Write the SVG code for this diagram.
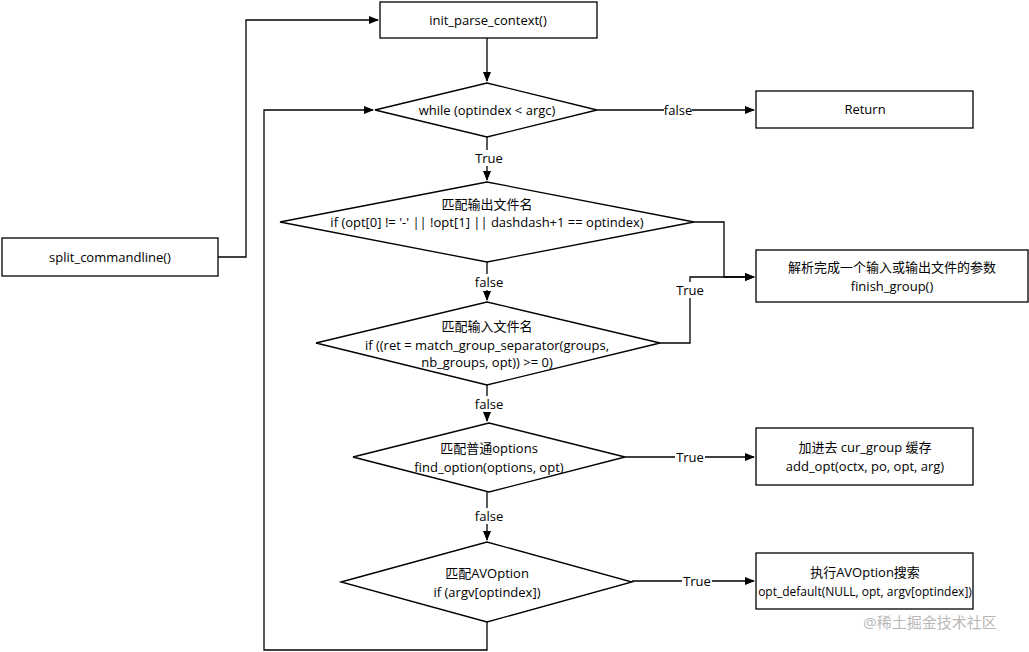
<svg xmlns="http://www.w3.org/2000/svg" width="1029" height="652" viewBox="0 0 1029 652">
<defs>
<marker id="a" markerWidth="10" markerHeight="8" refX="9" refY="4" orient="auto" markerUnits="userSpaceOnUse"><path d="M0,0 L10,4 L0,8 z" fill="#000"/></marker>
<style>
.s{fill:#fff;stroke:#000;stroke-width:1.3}
.l{fill:none;stroke:#000;stroke-width:1.3}
text{font-family:"Open Sans","Noto Sans CJK SC",sans-serif;font-size:13px;text-anchor:middle;fill:#000}
</style>
</defs>
<rect width="1029" height="652" fill="#fff"/>
<g id="connectors">
<path class="l" d="M487,38 V81" marker-end="url(#a)"/>
<path class="l" d="M597,110 H754" marker-end="url(#a)"/>
<path class="l" d="M487,137 V180" marker-end="url(#a)"/>
<path class="l" d="M487,262 V300" marker-end="url(#a)"/>
<path class="l" d="M694,222 H724 V277 H754" marker-end="url(#a)"/>
<path class="l" d="M660,343 H690 V277 H754" marker-end="url(#a)"/>
<path class="l" d="M487,385 V421" marker-end="url(#a)"/>
<path class="l" d="M625,457 H754" marker-end="url(#a)"/>
<path class="l" d="M487,492 V540" marker-end="url(#a)"/>
<path class="l" d="M632,581 H754" marker-end="url(#a)"/>
<path class="l" d="M487,622 V650 H264 V110 H373" marker-end="url(#a)"/>
<path class="l" d="M218,257 H246 V20 H378" marker-end="url(#a)"/>
<rect x="664" y="102" width="28" height="16" fill="#fff"/><text x="678" y="115">false</text>
<rect x="474" y="150" width="30" height="16" fill="#fff"/><text x="489" y="163">True</text>
<rect x="474" y="274" width="30" height="16" fill="#fff"/><text x="489" y="287">false</text>
<rect x="675" y="282" width="30" height="16" fill="#fff"/><text x="690" y="295">True</text>
<rect x="474" y="396" width="30" height="16" fill="#fff"/><text x="489" y="409">false</text>
<rect x="675" y="449" width="30" height="16" fill="#fff"/><text x="690" y="462">True</text>
<rect x="474" y="508" width="30" height="16" fill="#fff"/><text x="489" y="521">false</text>
<rect x="682" y="573" width="30" height="16" fill="#fff"/><text x="697" y="586">True</text>
</g>
<g id="init"><rect class="s" x="380" y="2" width="217" height="36"/><text x="488" y="25">init_parse_context()</text></g>
<g id="split"><rect class="s" x="2" y="238" width="216" height="38"/><text x="110" y="262">split_commandline()</text></g>
<g id="while"><polygon class="s" points="375,110 487,83 597,110 487,137"/><text x="487" y="115">while (optindex &lt; argc)</text></g>
<g id="ret"><rect class="s" x="756" y="91" width="217" height="37"/><text x="865" y="114">Return</text></g>
<g id="d2"><polygon class="s" points="280,222 487,182 694,222 487,262"/><text x="487" y="209">匹配输出文件名</text><text x="487" y="227">if (opt[0] != '-' || !opt[1] || dashdash+1 == optindex)</text></g>
<g id="fin"><rect class="s" x="756" y="250" width="272" height="52"/><text x="892" y="272">解析完成一个输入或输出文件的参数</text><text x="892" y="291">finish_group()</text></g>
<g id="d3"><polygon class="s" points="316,343 487,302 660,343 487,385"/><text x="487" y="331">匹配输入文件名</text><text x="487" y="350">if ((ret = match_group_separator(groups,</text><text x="487" y="367">nb_groups, opt)) &gt;= 0)</text></g>
<g id="d4"><polygon class="s" points="353,457 489,423 625,457 489,492"/><text x="489" y="453">匹配普通options</text><text x="489" y="472">find_option(options, opt)</text></g>
<g id="add"><rect class="s" x="756" y="428" width="217" height="57"/><text x="865" y="452">加进去 cur_group 缓存</text><text x="865" y="471">add_opt(octx, po, opt, arg)</text></g>
<g id="d5"><polygon class="s" points="341,582 487,542 632,582 487,622"/><text x="487" y="578">匹配AVOption</text><text x="487" y="597">if (argv[optindex])</text></g>
<g id="def"><rect class="s" x="756" y="553" width="217" height="56"/><text x="865" y="577">执行AVOption搜索</text><text x="865" y="596" style="font-size:12px">opt_default(NULL, opt, argv[optindex])</text></g>
<text x="930" y="628" style="font-size:15px;fill:#b8b8b8">@稀土掘金技术社区</text>
</svg>
